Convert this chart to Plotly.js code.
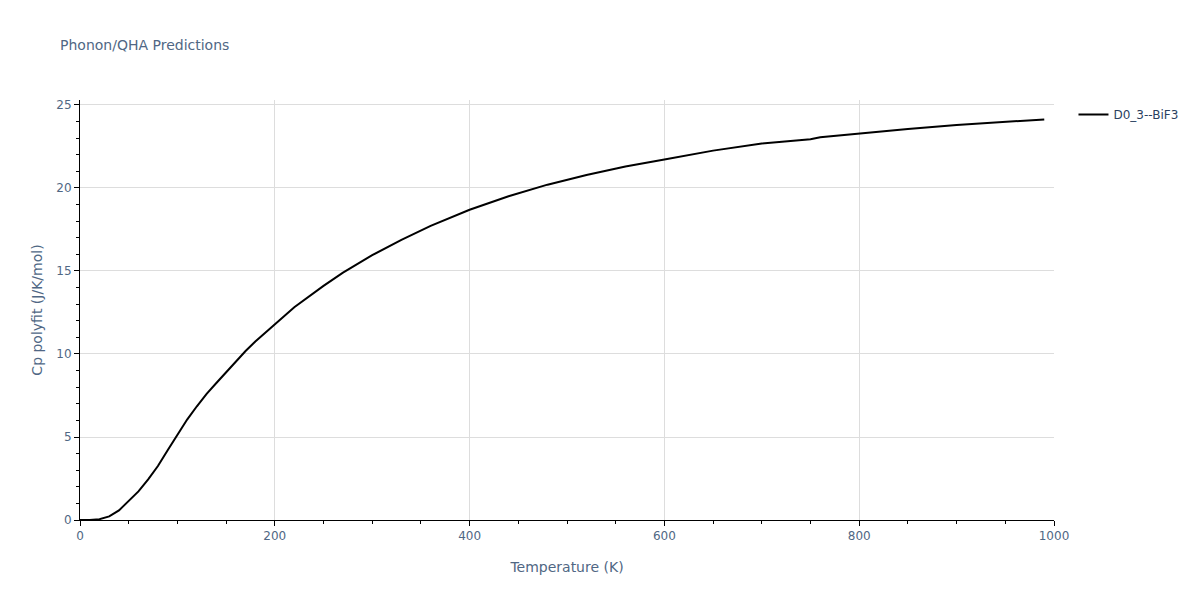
<!DOCTYPE html>
<html>
<head>
<meta charset="utf-8">
<script src="https://cdn.plot.ly/plotly-3.0.1.min.js"></script>
<style>
  body { margin: 0; }
  #myDiv { width: 1200px; height: 600px; }
</style>
</head>
<body>
<div id="myDiv"></div>
<script>
// temperatures (K) and Cp polyfit (J/K/mol)
var temperature = [0, 10, 20, 30, 40, 50, 60, 70, 80, 90, 100, 110, 120, 130, 140, 150, 160,
    170, 180, 190, 200, 220, 250, 270, 300, 330, 360, 400, 440, 480, 520, 560, 600,
    650, 700, 750, 760, 800, 850, 900, 950, 990];
var cp = [0, 0.0, 0.05, 0.22, 0.58, 1.12, 1.72, 2.45, 3.25, 4.2, 5.12, 6.05, 6.85, 7.6, 8.25,
    8.9, 9.55, 10.18, 10.75, 11.28, 11.8, 12.82, 14.1, 14.9, 15.95, 16.88, 17.72, 18.69,
    19.5, 20.2, 20.78, 21.3, 21.71, 22.25, 22.68, 22.93, 23.06, 23.3, 23.56, 23.8,
    23.98, 24.13];
var seriesName = 'D0_3--BiF3';

var textColor = '#2a3f5f';
var tickColor = '#506784';
var gridColor = '#dddddd';

var trace1 = {
    x: temperature,
    y: cp,
    mode: 'lines',
    name: seriesName,
    line: {
        color: 'black',
        width: 2
    },
    type: 'scatter'
};

var layout = {
    font: {
        family: 'DejaVu Sans, Verdana, sans-serif',
        size: 12,
        color: textColor
    },
    title: {
        text: 'Phonon/QHA Predictions',
        x: 0.05,
        xanchor: 'left',
        font: { size: 14, color: tickColor }
    },
    showlegend: true,
    legend: {
        font: { size: 12, color: textColor }
    },
    margin: {
        l: 80,
        r: 146,
        t: 100,
        b: 80
    },
    xaxis: {
        title: { text: 'Temperature (K)', font: { size: 14, color: tickColor } },
        range: [0, 1000],
        showline: true,
        linecolor: 'black',
        gridcolor: gridColor,
        ticks: 'outside',
        tickcolor: 'black',
        tickfont: { color: tickColor },
        minor: { ticks: 'outside', dtick: 50, tickcolor: 'black', showgrid: false },
        zeroline: false
    },
    yaxis: {
        title: { text: 'Cp polyfit (J/K/mol)', font: { size: 14, color: tickColor } },
        range: [0, 25.3],
        showline: true,
        linecolor: 'black',
        gridcolor: gridColor,
        ticks: 'outside',
        tickcolor: 'black',
        tickfont: { color: tickColor },
        minor: { ticks: 'outside', dtick: 1, tickcolor: 'black', showgrid: false },
        zeroline: false
    },
    plot_bgcolor: 'white',
    paper_bgcolor: 'white'
};

var config = {
    displayModeBar: false,
    responsive: false
};

Plotly.newPlot('myDiv', [trace1], layout, config);
</script>
</body>
</html>
